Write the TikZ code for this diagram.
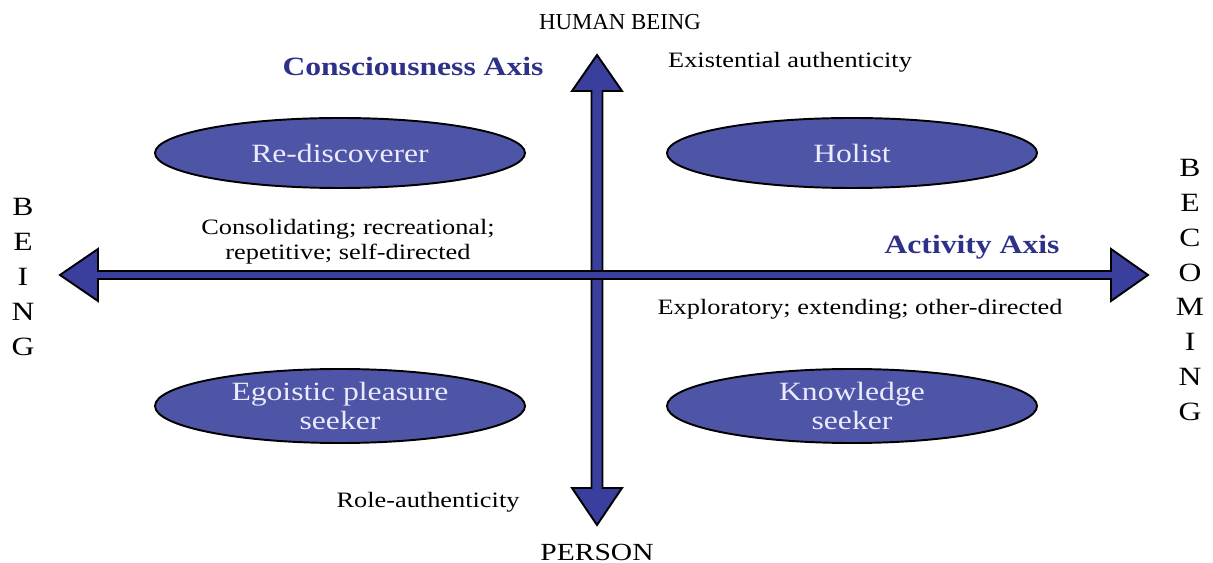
\documentclass[tikz,border=0pt]{standalone}
\usepackage{fontspec}
\setmainfont{Liberation Serif}[FakeStretch=1.2]
\newfontfamily\narrowserif{Liberation Serif}
\definecolor{ovalblue}{HTML}{4F55A6}
\definecolor{arrowblue}{HTML}{3A3F9E}
\definecolor{axisblue}{HTML}{2E3188}
\tikzset{
	oval/.style={draw=black,line width=1.1pt,fill=ovalblue},
	axisarrow/.style={draw=black,line width=1.1pt,fill=arrowblue,line join=miter},
	ovaltext/.style={text=white!92!blue,font=\fontsize{15}{16.5}\selectfont,align=center},
	note/.style={font=\fontsize{12.5}{14.2}\selectfont,align=center},
	axisname/.style={text=axisblue,font=\fontsize{15}{17}\selectfont\bfseries},
	pole/.style={font=\fontsize{15}{19.8}\selectfont,align=center}
}
\begin{document}
\begin{tikzpicture}[x=0.02cm,y=-0.02cm]
			\useasboundingbox (0,0) rectangle (1213,563);
			% quadrants
			\draw[oval] (340,153) ellipse [x radius=185,y radius=35];
			\draw[oval] (852,153) ellipse [x radius=185,y radius=35];
			\draw[oval] (340,406) ellipse [x radius=185,y radius=37];
			\draw[oval] (852,406) ellipse [x radius=185,y radius=37];
			\node[ovaltext] (rediscoverer) at (340,153) {Re-discoverer};
			\node[ovaltext] (holist) at (852,153) {Holist};
			\node[ovaltext] (egoist) at (340,406) {Egoistic pleasure\\seeker};
			\node[ovaltext] (knowledge) at (852,406) {Knowledge\\seeker};
			% consciousness axis
			\draw[axisarrow] (597,55)--(622,91)--(602.5,91)--(602.5,488)--(622,488)--(597,525)
				--(572,488)--(591.5,488)--(591.5,91)--(572,91)--cycle;
			% activity axis
			\draw[axisarrow] (60,275)--(98,249)--(98,271)--(1111,271)--(1111,249)--(1148,275)
				--(1111,301)--(1111,279)--(98,279)--(98,301)--cycle;
			% labels
			\node[note,font=\narrowserif\fontsize{13}{15}\selectfont] (human) at (620,22) {HUMAN BEING};
			\node[note,font=\fontsize{14}{16}\selectfont] (person) at (597,552) {PERSON};
			\node[axisname] (consc) at (413,67) {Consciousness Axis};
			\node[axisname] (activity) at (972,247) {Activity Axis};
			\node[note] (existential) at (790,62) {Existential authenticity};
			\node[note] (role) at (428,502) {Role-authenticity};
			\node[note] (consolidating) at (348,242) {Consolidating; recreational;\\repetitive; self-directed};
			\node[note] (exploratory) at (860,309) {Exploratory; extending; other-directed};
			\node[pole] (being) at (23,277) {B\\E\\I\\N\\G};
			\node[pole] (becoming) at (1190,290) {B\\E\\C\\O\\M\\I\\N\\G};
\end{tikzpicture}
\end{document}
